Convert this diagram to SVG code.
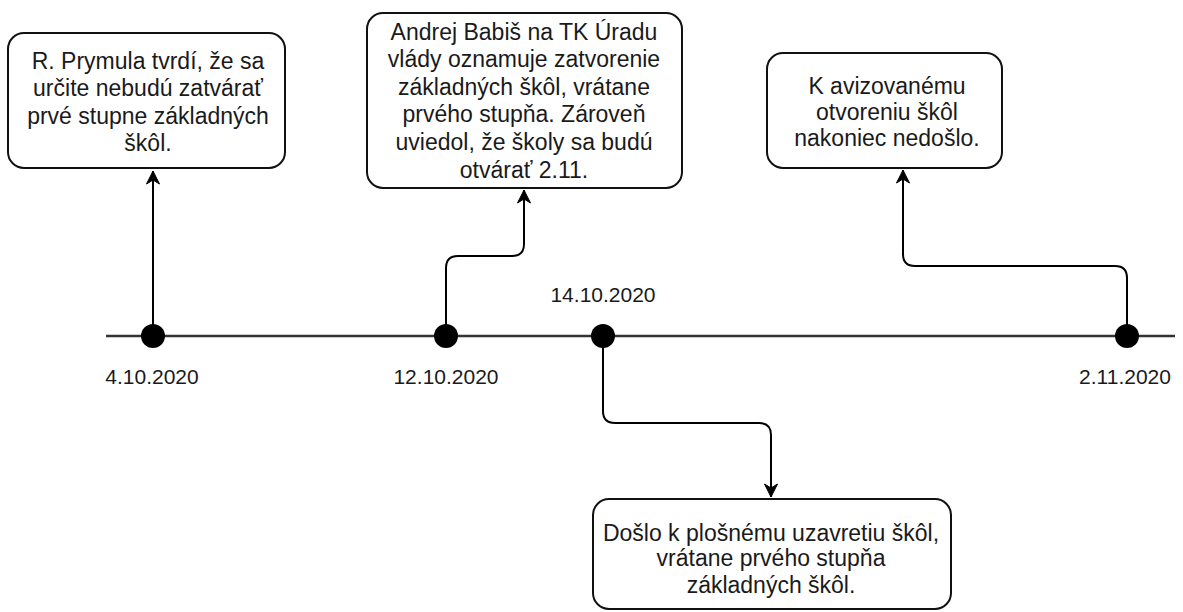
<svg xmlns="http://www.w3.org/2000/svg" width="1183" height="612" viewBox="0 0 1183 612">
  <style>
    .box { fill: #ffffff; stroke: #111111; stroke-width: 2; }
    .txt { font-family: "Liberation Sans", Arial, sans-serif; font-size: 23px; fill: #1a1a1a; text-anchor: middle; }
    .date { font-family: "Liberation Sans", Arial, sans-serif; font-size: 21px; fill: #1a1a1a; text-anchor: middle; }
    .axis { stroke: #333333; stroke-width: 2.5; fill: none; }
    .dot { fill: #000000; }
    .link { stroke: #000000; stroke-width: 2; fill: none; marker-end: url(#arrow); }
  </style>
  <defs>
    <marker id="arrow" markerUnits="userSpaceOnUse" markerWidth="16" markerHeight="16" viewBox="-14 -8 16 16" refX="0" refY="0" orient="auto">
      <path d="M0,0 L-13,-6.5 L-9,0 L-13,6.5 Z" fill="#000000" stroke="#000000" stroke-width="1"/>
    </marker>
  </defs>

  <rect width="1183" height="612" fill="#ffffff"/>

  <!-- time axis -->
  <g id="axis">
    <line class="axis" x1="106" y1="336" x2="1175" y2="336"/>
  </g>

  <!-- connectors -->
  <g id="connectors">
    <path class="link" d="M153,336 V171"/>
    <path class="link" d="M446,336 V268 Q446,256 458,256 H512 Q524,256 524,244 V190"/>
    <path class="link" d="M603,336 V411 Q603,423 615,423 H759 Q771,423 771,435 V497"/>
    <path class="link" d="M1127,336 V278 Q1127,266 1115,266 H915 Q903,266 903,254 V170"/>
  </g>

  <!-- timeline events -->
  <g id="event-0410">
    <circle class="dot" cx="153" cy="336" r="12"/>
    <text class="date" x="152" y="384">4.10.2020</text>
  </g>
  <g id="event-1210">
    <circle class="dot" cx="446" cy="336" r="12"/>
    <text class="date" x="446" y="384">12.10.2020</text>
  </g>
  <g id="event-1410">
    <circle class="dot" cx="603" cy="336" r="12"/>
    <text class="date" x="603" y="302">14.10.2020</text>
  </g>
  <g id="event-0211">
    <circle class="dot" cx="1127" cy="336" r="12"/>
    <text class="date" x="1125" y="384">2.11.2020</text>
  </g>

  <!-- note boxes -->
  <g id="note-prymula">
    <rect class="box" x="8" y="33" width="277" height="135" rx="16"/>
    <text class="txt" x="148" y="69">R. Prymula tvrdí, že sa</text>
    <text class="txt" x="148" y="96">určite nebudú zatvárať</text>
    <text class="txt" x="148" y="124">prvé stupne základných</text>
    <text class="txt" x="148" y="151">škôl.</text>
  </g>
  <g id="note-babis">
    <rect class="box" x="367" y="13" width="315" height="175" rx="16"/>
    <text class="txt" x="524" y="40">Andrej Babiš na TK Úradu</text>
    <text class="txt" x="524" y="67">vlády oznamuje zatvorenie</text>
    <text class="txt" x="524" y="95">základných škôl, vrátane</text>
    <text class="txt" x="524" y="122">prvého stupňa. Zároveň</text>
    <text class="txt" x="524" y="150">uviedol, že školy sa budú</text>
    <text class="txt" x="524" y="178">otvárať 2.11.</text>
  </g>
  <g id="note-otvorenie">
    <rect class="box" x="767" y="53" width="235" height="115" rx="16"/>
    <text class="txt" x="887" y="94">K avizovanému</text>
    <text class="txt" x="887" y="120">otvoreniu škôl</text>
    <text class="txt" x="887" y="146">nakoniec nedošlo.</text>
  </g>
  <g id="note-uzavretie">
    <rect class="box" x="593" y="499" width="358" height="110" rx="16"/>
    <text class="txt" x="771" y="541">Došlo k plošnému uzavretiu škôl,</text>
    <text class="txt" x="771" y="566">vrátane prvého stupňa</text>
    <text class="txt" x="771" y="593">základných škôl.</text>
  </g>
</svg>
